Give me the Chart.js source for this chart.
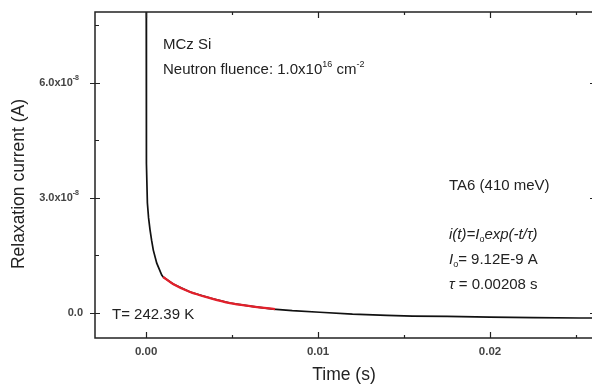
<!DOCTYPE html>
<html>
<head>
<meta charset="utf-8">
<script src="https://cdn.jsdelivr.net/npm/chart.js@4.4.0/dist/chart.umd.min.js"></script>
<style>
body { margin: 0; overflow: hidden; background: #fff; }
#wrap { width: 598px; height: 385px; position: relative; }
</style>
</head>
<body>
<div id="wrap"><canvas id="relax"></canvas></div>
<script>
// measured relaxation current, time in s, current in A
var timeData = [0, 0.00002, 0.000076, 0.000145, 0.00023, 0.00032, 0.00042, 0.00062, 0.00091, 0.00099,
    0.00157, 0.00256, 0.00372, 0.00488, 0.00605, 0.00738, 0.0085, 0.0101,
    0.012, 0.014, 0.0155, 0.0175, 0.02, 0.0225, 0.0252, 0.0262];
var currentData = [1.2e-7, 3.9e-8, 2.87e-8, 2.48e-8, 2.17e-8, 1.9e-8, 1.64e-8, 1.30e-8, 0.99e-8, 0.94e-8,
    0.757e-8, 0.548e-8, 0.39e-8, 0.26e-8, 0.18e-8, 0.10e-8, 0.06e-8, 0.02e-8,
    -0.03e-8, -0.06e-8, -0.08e-8, -0.09e-8, -0.11e-8, -0.12e-8, -0.13e-8, -0.13e-8];

// exponential fit (red) over the early part of the decay
var fitTime = [0.00099, 0.00157, 0.00256, 0.00372, 0.00488, 0.00605, 0.0075];
var fitCurrent = [0.94e-8, 0.757e-8, 0.548e-8, 0.39e-8, 0.26e-8, 0.18e-8, 0.10e-8];

// axis ticks
var xTicks = [0, 0.005, 0.01, 0.015, 0.02, 0.025];
var xLabels = ["0.00", "", "0.01", "", "0.02", ""];
var yTicks = [0, 1.5e-8, 3e-8, 4.5e-8, 6e-8, 7.5e-8];
var yLabels = ["0.0", "", "3.0x10", "", "6.0x10", ""];
var yExp = ["", "", "-8", "", "-8", ""];

function toPoints(xs, ys) {
    var pts = [];
    for (var i = 0; i < xs.length; i++) {
        pts.push({ x: xs[i], y: ys[i] });
    }
    return pts;
}

// draw a row of text pieces: [text, font, dy]
function drawParts(ctx, x, y, parts) {
    for (var i = 0; i < parts.length; i++) {
        ctx.font = parts[i][1];
        ctx.fillText(parts[i][0], x, y + (parts[i][2] || 0));
        x += ctx.measureText(parts[i][0]).width;
    }
}

var FAM = "'Liberation Sans', Arial, sans-serif";

var frame = {
    id: "frame",
    afterDraw: function (chart) {
        var ctx = chart.ctx;
        var a = chart.chartArea;
        var xs = chart.scales.x;
        var ys = chart.scales.y;
        ctx.save();
        ctx.strokeStyle = "#222";
        ctx.lineWidth = 1.5;
        ctx.strokeRect(a.left, a.top, a.right - a.left, a.bottom - a.top);

        ctx.lineWidth = 1.2;
        ctx.beginPath();
        for (var i = 0; i < xTicks.length; i++) {
            var px = Math.round(xs.getPixelForValue(xTicks[i])) + 0.5;
            var len = xLabels[i] ? 6 : 3;
            ctx.moveTo(px, a.bottom); ctx.lineTo(px, a.bottom - len);
            ctx.moveTo(px, a.top); ctx.lineTo(px, a.top + len);
        }
        for (var j = 0; j < yTicks.length; j++) {
            var py = Math.round(ys.getPixelForValue(yTicks[j])) + 0.5;
            if (yLabels[j]) {
                ctx.moveTo(a.left - 5, py); ctx.lineTo(a.left + 5, py);
                ctx.moveTo(a.right, py); ctx.lineTo(a.right - 6, py);
            } else {
                ctx.moveTo(a.left, py); ctx.lineTo(a.left + 4, py);
                ctx.moveTo(a.right, py); ctx.lineTo(a.right - 3, py);
            }
        }
        ctx.stroke();

        // y tick labels with superscript exponent
        ctx.fillStyle = "#444";
        ctx.textAlign = "left";
        ctx.textBaseline = "middle";
        for (var k = 0; k < yTicks.length; k++) {
            if (!yLabels[k]) continue;
            var ty = ys.getPixelForValue(yTicks[k]);
            ctx.font = "bold 11px " + FAM;
            var w = ctx.measureText(yLabels[k]).width;
            ctx.font = "bold 7px " + FAM;
            var we = yExp[k] ? ctx.measureText(yExp[k]).width + 1 : 0;
            var right = yExp[k] ? a.left - 15 : a.left - 12;
            drawParts(ctx, right - w - we, ty, [[yLabels[k], "bold 11px " + FAM], [yExp[k], "bold 7px " + FAM, -5]]);
        }

        // axis titles
        ctx.fillStyle = "#222";
        ctx.textAlign = "center";
        ctx.textBaseline = "middle";
        ctx.font = "17.5px " + FAM;
        ctx.fillText("Time (s)", 344, 375);
        ctx.save();
        ctx.translate(19, 184);
        ctx.rotate(-Math.PI / 2);
        ctx.fillText("Relaxation current (A)", 0, 0);
        ctx.restore();

        // annotations
        ctx.textAlign = "left";
        ctx.textBaseline = "alphabetic";
        var f = "15px " + FAM;
        var fi = "italic 15px " + FAM;
        var fs = "9px " + FAM;
        drawParts(ctx, 163, 49, [["MCz Si", f]]);
        drawParts(ctx, 163, 74, [["Neutron fluence: 1.0x10", f], ["16", fs, -7], [" cm", f], ["-2", fs, -7]]);
        drawParts(ctx, 449, 190, [["TA6 (410 meV)", f]]);
        drawParts(ctx, 449, 239, [["i(t)=I", fi], ["o", fs, 3], ["exp(-t/\u03C4)", fi]]);
        drawParts(ctx, 449, 264, [["I", fi], ["o", fs, 3], ["= 9.12E-9 A", f]]);
        drawParts(ctx, 449, 289, [["\u03C4", fi], [" = 0.00208 s", f]]);
        drawParts(ctx, 112, 319, [["T= 242.39 K", f]]);
        ctx.restore();
    }
};

new Chart(document.getElementById("relax").getContext("2d"), {
    type: "scatter",
    data: {
        datasets: [
            {
                label: "Fit",
                data: toPoints(fitTime, fitCurrent),
                showLine: true,
                borderColor: "#e3202b",
                borderWidth: 2.3,
                pointRadius: 0,
                cubicInterpolationMode: "monotone"
            },
            {
                label: "Measured",
                data: toPoints(timeData, currentData),
                showLine: true,
                borderColor: "#111",
                borderWidth: 1.7,
                pointRadius: 0,
                tension: 0
            }
        ]
    },
    options: {
        responsive: true,
        maintainAspectRatio: false,
        animation: false,
        layout: { padding: { top: 12, right: 2, left: 0, bottom: 0 } },
        plugins: { legend: { display: false }, tooltip: { enabled: false } },
        scales: {
            x: {
                type: "linear",
                min: -0.00297,
                max: 0.02616,
                grid: { display: false, drawTicks: false },
                border: { display: false },
                afterBuildTicks: function (s) { s.ticks = xTicks.map(function (v) { return { value: v }; }); },
                afterFit: function (s) { s.height = 47; },
                ticks: {
                    autoSkip: false,
                    maxRotation: 0,
                    padding: 7,
                    color: "#444",
                    font: { family: FAM, size: 11.5, weight: "bold" },
                    callback: function (v, i) { return xLabels[i]; }
                }
            },
            y: {
                type: "linear",
                min: -0.652e-8,
                max: 7.85e-8,
                grid: { display: false, drawTicks: false },
                border: { display: false },
                afterBuildTicks: function (s) { s.ticks = yTicks.map(function (v) { return { value: v }; }); },
                afterFit: function (s) { s.width = 95; },
                ticks: { display: false }
            }
        }
    },
    plugins: [frame]
});
</script>
</body>
</html>
